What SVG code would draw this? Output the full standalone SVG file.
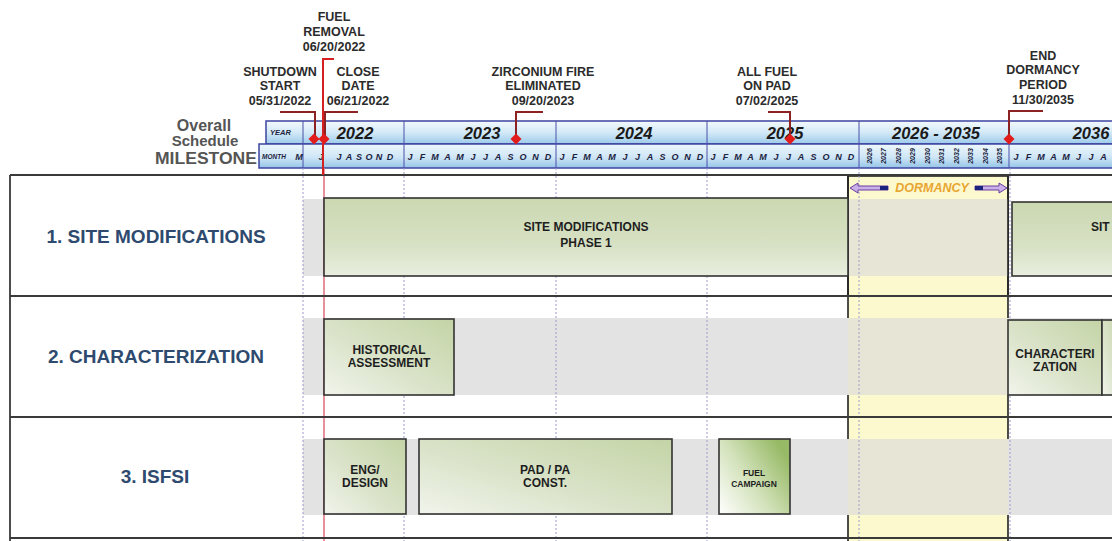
<svg xmlns="http://www.w3.org/2000/svg" width="1112" height="541" viewBox="0 0 1112 541">
<defs>
<linearGradient id="gY" x1="0" y1="0" x2="0" y2="1"><stop offset="0" stop-color="#f3f9fd"/><stop offset="0.5" stop-color="#d3e9f7"/><stop offset="1" stop-color="#9ccaea"/></linearGradient>
<linearGradient id="gM" x1="0" y1="0" x2="0" y2="1"><stop offset="0" stop-color="#eef7fc"/><stop offset="0.55" stop-color="#cfe6f6"/><stop offset="1" stop-color="#94c4e7"/></linearGradient>
<linearGradient id="gBox" x1="0" y1="1" x2="1" y2="0"><stop offset="0" stop-color="#f1f4ec"/><stop offset="0.45" stop-color="#dae3c9"/><stop offset="1" stop-color="#c4d4a6"/></linearGradient>
<linearGradient id="gWide" x1="0" y1="0" x2="0" y2="1"><stop offset="0" stop-color="#cbd8b1"/><stop offset="0.6" stop-color="#d7e1c4"/><stop offset="1" stop-color="#e9eedf"/></linearGradient>
<linearGradient id="gFuel" x1="0" y1="1" x2="1" y2="0.3"><stop offset="0" stop-color="#ffffff"/><stop offset="0.5" stop-color="#d3e2bb"/><stop offset="1" stop-color="#97ba66"/></linearGradient>
</defs>
<style>
text{font-family:"Liberation Sans",Arial,sans-serif}
.ms{font-weight:bold;font-size:12.5px;fill:#2b2b2b;text-anchor:middle}
.hd{font-weight:bold;fill:#555;text-anchor:middle}
.yr{font-weight:bold;font-style:italic;font-size:16.5px;fill:#1a1a1a;text-anchor:middle}
.mo{font-weight:bold;font-style:italic;font-size:9px;fill:#1c2340;text-anchor:middle}
.dy{font-weight:bold;font-style:italic;font-size:7px;fill:#1c2340;text-anchor:middle}
.cell{font-weight:bold;font-style:italic;font-size:7.5px;fill:#1c2340}
.lbl{font-weight:bold;font-size:19px;fill:#2e4a6e;text-anchor:middle}
.bx{font-weight:bold;font-size:12px;fill:#1e1e1e;text-anchor:middle}
.sm{font-weight:bold;font-size:8.5px;fill:#1e1e1e;text-anchor:middle}
.box{stroke:#333;stroke-width:1.6}
.band{fill:#e3e3e3}
.beige{fill:#e7e5d5}
.dash{stroke:#9a9ccc;stroke-width:1;stroke-dasharray:2 2;fill:none}
.hl{stroke:#4a50a8;stroke-width:1;fill:none}
.lead{stroke:#8c2222;stroke-width:2;fill:none}
.dia{fill:#e21b1b}
.rl{stroke:#3a3a3a;stroke-width:1.8;fill:none}
.arr{fill:#c9b0e8;stroke:#6a3fa0;stroke-width:1}
</style>
<rect width="1112" height="541" fill="#fff"/>

<g id="header-title">
<text class="hd" x="204" y="131" style="font-size:16px">Overall</text>
<text class="hd" x="205" y="146" style="font-size:15px">Schedule</text>
<text class="hd" x="206" y="164" style="font-size:17px;font-weight:bold" textLength="102" lengthAdjust="spacingAndGlyphs">MILESTONE</text>
</g>

<g id="timeline">
<rect x="266" y="121" width="850" height="23" fill="url(#gY)" stroke="#3c44a0" stroke-width="1.5"/>
<rect x="259" y="144" width="857" height="24" fill="url(#gM)" stroke="#3c44a0" stroke-width="1.5"/>
<path class="hl" d="M303,121V168M404,121V168M556,121V168M707,121V168M859,121V168M1009,121V168"/>
<text class="cell" x="270" y="135">YEAR</text>
<text class="cell" x="262" y="159" style="font-size:6.5px">MONTH</text>
<text class="yr" x="355" y="139">2022</text>
<text class="yr" x="482" y="139">2023</text>
<text class="yr" x="634" y="139">2024</text>
<text class="yr" x="785" y="139">2025</text>
<text class="yr" x="936" y="139">2026 - 2035</text>
<text class="yr" x="1091" y="139">2036</text>
<text class="mo" x="299 321 339 349 359 369 379 390" y="160">MJJASOND</text>
<text class="mo" x="410 422.5 435 447.5 460 473 485.5 498 510.5 523 535.5 548" y="160">JFMAMJJASOND</text>
<text class="mo" x="562 574.5 587 599.5 612 625 637.5 650 662.5 675 687.5 700" y="160">JFMAMJJASOND</text>
<text class="mo" x="713 725.5 738 750.5 763 776 788.5 801 813.5 826 838.5 851" y="160">JFMAMJJASOND</text>
<text class="mo" x="1016 1028.5 1041 1053.5 1066 1078.5 1091 1103.5" y="160">JFMAMJJA</text>
<text class="dy" transform="translate(869,156) rotate(-90)" dy="2.5">2026</text>
<text class="dy" transform="translate(883.5,156) rotate(-90)" dy="2.5">2027</text>
<text class="dy" transform="translate(898,156) rotate(-90)" dy="2.5">2028</text>
<text class="dy" transform="translate(912.5,156) rotate(-90)" dy="2.5">2029</text>
<text class="dy" transform="translate(927,156) rotate(-90)" dy="2.5">2030</text>
<text class="dy" transform="translate(941.5,156) rotate(-90)" dy="2.5">2031</text>
<text class="dy" transform="translate(956,156) rotate(-90)" dy="2.5">2032</text>
<text class="dy" transform="translate(970.5,156) rotate(-90)" dy="2.5">2033</text>
<text class="dy" transform="translate(985,156) rotate(-90)" dy="2.5">2034</text>
<text class="dy" transform="translate(999.5,156) rotate(-90)" dy="2.5">2035</text>
</g>

<g id="grid">
<rect x="848" y="176" width="160" height="365" fill="#fdf9cf"/>
<path d="M848,176V541M1008,176V541" stroke="#222" stroke-width="1.6"/>
<rect class="band" x="303" y="199" width="545" height="77"/>
<rect class="band" x="303" y="318" width="809" height="77"/>
<rect class="band" x="303" y="439" width="809" height="76"/>
<rect class="beige" x="848" y="199" width="160" height="77"/>
<rect class="beige" x="848" y="318" width="160" height="77"/>
<rect class="beige" x="848" y="439" width="160" height="76"/>
<rect x="848" y="176" width="160" height="120" fill="none" stroke="#222" stroke-width="1.6"/>
<path class="dash" d="M303,168V541M404,168V541M556,168V541M707,168V541M859,168V541M1010,168V541"/>
<path d="M324,168V541" stroke="#e27684" stroke-width="1.6"/>
<path class="rl" d="M10,175H1112M10,296H1112M10,417H1112M10,538H1112M10,175V541"/>
</g>

<g id="row1">
<text class="lbl" x="156" y="243">1. SITE MODIFICATIONS</text>
<g id="site-mod-1"><rect class="box" x="324" y="198" width="524" height="78" fill="url(#gWide)"/>
<text class="bx" x="586" y="231">SITE MODIFICATIONS</text><text class="bx" x="586" y="247">PHASE 1</text></g>
<g id="site-mod-2"><rect class="box" x="1012" y="202" width="110" height="74" fill="url(#gWide)"/>
<text class="bx" x="1091" y="231" style="text-anchor:start">SIT</text></g>
<g id="dormancy">
<polygon class="arr" points="850,188 858,183 858,186 888,186 888,190 858,190 858,193"/>
<rect x="880" y="186" width="8" height="4" fill="#1a237e"/>
<text x="932" y="192" font-weight="bold" font-style="italic" font-size="12.5" fill="#e8a530" text-anchor="middle">DORMANCY</text>
<polygon class="arr" points="1007,188 999,183 999,186 975,186 975,190 999,190 999,193"/>
<rect x="975" y="186" width="8" height="4" fill="#1a237e"/>
</g>
</g>

<g id="row2">
<text class="lbl" x="156" y="363">2. CHARACTERIZATION</text>
<g id="historical"><rect class="box" x="324" y="319" width="130" height="76" fill="url(#gBox)"/>
<text class="bx" x="389" y="354">HISTORICAL</text><text class="bx" x="389" y="367">ASSESSMENT</text></g>
<g id="characterization"><rect class="box" x="1008" y="320" width="94" height="75" fill="url(#gBox)"/>
<text class="bx" x="1055" y="358">CHARACTERI</text><text class="bx" x="1055" y="371">ZATION</text></g>
<g id="char-next"><rect class="box" x="1102" y="320" width="20" height="75" fill="url(#gBox)"/></g>
</g>

<g id="row3">
<text class="lbl" x="155" y="483">3. ISFSI</text>
<g id="eng-design"><rect class="box" x="324" y="439" width="82" height="75" fill="url(#gBox)"/>
<text class="bx" x="365" y="474">ENG/</text><text class="bx" x="365" y="487">DESIGN</text></g>
<g id="pad-const"><rect class="box" x="419" y="439" width="253" height="75" fill="url(#gBox)"/>
<text class="bx" x="545" y="474">PAD / PA</text><text class="bx" x="545" y="487">CONST.</text></g>
<g id="fuel-campaign"><rect class="box" x="719" y="439" width="71" height="75" fill="url(#gFuel)"/>
<text class="sm" x="754" y="476">FUEL</text><text class="sm" x="754" y="487">CAMPAIGN</text></g>
</g>

<g id="connectors">
<path class="lead" d="M280,112H315V139"/>
<path class="lead" d="M358,112H325V139"/>
<path d="M334,59H323V175" stroke="#d42020" stroke-width="2" fill="none"/>
<path class="lead" d="M543,112H516V139"/>
<path class="lead" d="M768,112H790V139"/>
<path class="lead" d="M1043,111H1009V139"/>
</g>

<g id="milestones">
<polygon class="dia" points="314,133.5 319.5,139 314,144.5 308.5,139"/>
<polygon class="dia" points="324,133.5 329.5,139 324,144.5 318.5,139"/>
<polygon class="dia" points="516,133.5 521.5,139 516,144.5 510.5,139"/>
<polygon class="dia" points="790,133.5 795.5,139 790,144.5 784.5,139"/>
<polygon class="dia" points="1009,133.5 1014.5,139 1009,144.5 1003.5,139"/>
<g id="m-fuel-removal"><text class="ms" x="334" y="21">FUEL</text><text class="ms" x="334" y="36">REMOVAL</text><text class="ms" x="334" y="51">06/20/2022</text></g>
<g id="m-shutdown"><text class="ms" x="280" y="76">SHUTDOWN</text><text class="ms" x="280" y="90">START</text><text class="ms" x="280" y="105">05/31/2022</text></g>
<g id="m-close"><text class="ms" x="358" y="76">CLOSE</text><text class="ms" x="358" y="90">DATE</text><text class="ms" x="358" y="105">06/21/2022</text></g>
<g id="m-zirconium"><text class="ms" x="543" y="76">ZIRCONIUM FIRE</text><text class="ms" x="543" y="90">ELIMINATED</text><text class="ms" x="543" y="105">09/20/2023</text></g>
<g id="m-allfuel"><text class="ms" x="767" y="76">ALL FUEL</text><text class="ms" x="767" y="90">ON PAD</text><text class="ms" x="767" y="105">07/02/2025</text></g>
<g id="m-end-dormancy"><text class="ms" x="1043" y="60">END</text><text class="ms" x="1043" y="74">DORMANCY</text><text class="ms" x="1043" y="89">PERIOD</text><text class="ms" x="1043" y="104">11/30/2035</text></g>
</g>
</svg>
